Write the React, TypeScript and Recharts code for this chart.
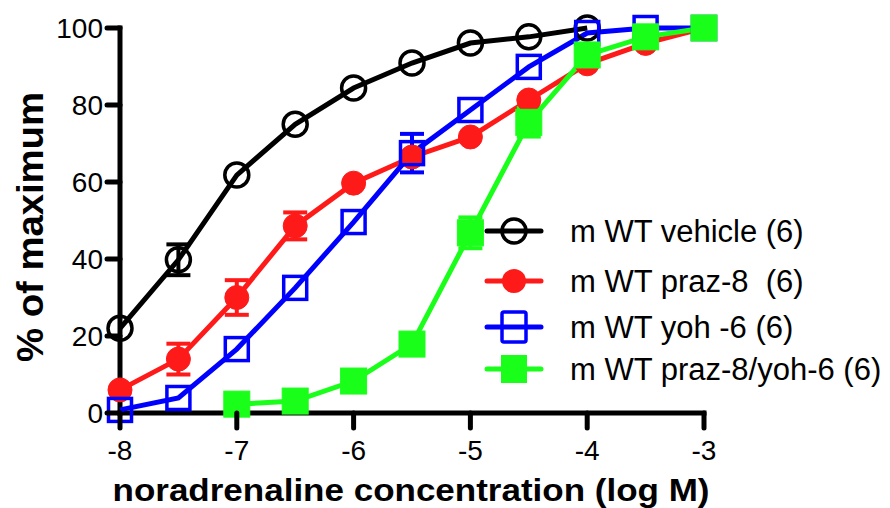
import { LineChart, Line, XAxis, YAxis, ErrorBar, Legend, ReferenceLine } from "recharts";

// log [noradrenaline] (M)
const doses = [-8, -7.5, -7, -6.5, -6, -5.5, -5, -4.5, -4, -3.5, -3];

const vehicle = [22, 39.8, 61.8, 75, 84.4, 90.9, 96.1, 97.7, 100, null, null];
const vehicleErr = [null, 4, null, null, null, null, null, null, null, null, null];

const praz = [6, 14, 30, 48.6, 59.7, 66.5, 71.7, 81.3, 90.7, 96, 100];
const prazErr = [null, 4, 4.5, 3.5, null, null, null, null, null, null, null];

const yoh = [0.8, 3.9, 16.6, 32.5, 49.6, 67.5, 78.7, 89.9, 98.7, 100, 100];
const yohErr = [null, null, null, null, null, 5, null, null, null, null, null];

const prazYoh = [null, null, 2.3, 3.1, 8.3, 17.9, 46.8, 75.5, 93, 97.7, 100];
const prazYohErr = [null, null, null, null, null, null, 4, 3.7, null, null, null];

const legendNames = [
  "m WT vehicle (6)",
  "m WT praz-8  (6)",
  "m WT yoh -6 (6)",
  "m WT praz-8/yoh-6 (6)",
];

const xTicks = [-8, -7, -6, -5, -4, -3];
const yTicks = [0, 20, 40, 60, 80, 100];

const BLACK = "#000000";
const RED = "#ff1a1a";
const BLUE = "#0000ff";
const GREEN = "#1aff1a";

const FONT = 'Arial, "Liberation Sans", sans-serif';

function toRows(values: (number | null)[], errs: (number | null)[]) {
  return doses
    .map((x, i) => ({ x, y: values[i], err: errs[i] }))
    .filter((d) => d.y != null);
}

const vehicleData = toRows(vehicle, vehicleErr);
const prazData = toRows(praz, prazErr);
const yohData = toRows(yoh, yohErr);
const prazYohData = toRows(prazYoh, prazYohErr);

const square = (color: string, filled: boolean) => (props: any) => {
  const { cx, cy, index } = props;
  if (cx == null || cy == null) return <g key={`sq-${index}`} />;
  const s = filled ? 26 : 23;
  return (
    <rect
      key={`sq-${index}`}
      x={cx - s / 2}
      y={cy - s / 2}
      width={s}
      height={s}
      fill={filled ? color : "none"}
      stroke={color}
      strokeWidth={filled ? 1 : 3.5}
    />
  );
};

// thick Prism-style ticks drawn at the positions recharts hands us
const XTick = (props: any) => {
  const { x, y, payload } = props;
  return (
    <g>
      <line x1={x} x2={x} y1={y} y2={y + 15} stroke="#000" strokeWidth={5} strokeLinecap="round" />
      <text x={x} y={y + 27} dy="0.71em" textAnchor="middle" fontSize={28} fontFamily={FONT} fill="#000">
        {payload.value}
      </text>
    </g>
  );
};

const YTick = (props: any) => {
  const { x, y, payload } = props;
  return (
    <g>
      <line x1={x - 13} x2={x} y1={y} y2={y} stroke="#000" strokeWidth={5} strokeLinecap="round" />
      <text x={x - 17} y={y} dy="0.36em" textAnchor="end" fontSize={28} fontFamily={FONT} fill="#000">
        {payload.value}
      </text>
    </g>
  );
};

const legendColors = [BLACK, RED, BLUE, GREEN];

function LegendMarker({ i, x, y }: { i: number; x: number; y: number }) {
  const c = legendColors[i];
  if (i === 0) return <circle cx={x} cy={y} r={12} fill="none" stroke={c} strokeWidth={3.5} />;
  if (i === 1) return <circle cx={x} cy={y} r={12} fill={c} />;
  if (i === 2)
    return <rect x={x - 12} y={y - 15} width={24} height={30} rx={2} fill="none" stroke={c} strokeWidth={3.5} />;
  return <rect x={x - 13} y={y - 14} width={26} height={28} fill={c} />;
}

function renderLegend() {
  const rowY = [26, 76, 122, 164];
  return (
    <svg width={420} height={190} style={{ overflow: "visible" }}>
      {legendNames.map((name, i) => (
        <g key={name}>
          <line x1={17} x2={71} y1={rowY[i]} y2={rowY[i]} stroke={legendColors[i]} strokeWidth={5} strokeLinecap="round" />
          <LegendMarker i={i} x={44} y={rowY[i]} />
          <text
            x={100}
            y={rowY[i]}
            dy="0.36em"
            fontSize={31}
            fontFamily={FONT}
            fill="#000"
            style={{ whiteSpace: "pre" }}
          >
            {name}
          </text>
        </g>
      ))}
    </svg>
  );
}

export default function App() {
  return (
    <div style={{ position: "absolute", left: 0, top: 0, width: 890, height: 508, background: "#fff", fontFamily: FONT }}>
      <LineChart width={890} height={508} margin={{ top: 28, right: 186, left: 0, bottom: 0 }}>
        <XAxis
          type="number"
          dataKey="x"
          domain={[-8, -3]}
          ticks={xTicks}
          height={95}
          axisLine={false}
          tickLine={false}
          tickSize={0}
          tickMargin={0}
          tick={<XTick />}
        />
        <YAxis
          type="number"
          domain={[0, 100]}
          ticks={yTicks}
          width={120}
          axisLine={false}
          tickLine={false}
          tickSize={0}
          tickMargin={0}
          tick={<YTick />}
        />
        <ReferenceLine y={0} stroke="#000" strokeWidth={5} strokeLinecap="square" />
        <ReferenceLine x={-8} stroke="#000" strokeWidth={5} strokeLinecap="square" />
        <Legend
          layout="vertical"
          align="center"
          verticalAlign="middle"
          content={renderLegend}
          wrapperStyle={{ left: 470, top: 205, width: 420, height: 190 }}
        />
        <Line
          data={vehicleData}
          dataKey="y"
          name={legendNames[0]}
          type="linear"
          stroke={BLACK}
          strokeWidth={5}
          dot={{ r: 12, fill: "none", stroke: BLACK, strokeWidth: 3.5 }}
          isAnimationActive={false}
        >
          <ErrorBar dataKey="err" width={12} stroke={BLACK} strokeWidth={4} direction="y" />
        </Line>
        <Line
          data={prazData}
          dataKey="y"
          name={legendNames[1]}
          type="linear"
          stroke={RED}
          strokeWidth={5}
          dot={{ r: 12, fill: RED, stroke: RED, strokeWidth: 1 }}
          isAnimationActive={false}
        >
          <ErrorBar dataKey="err" width={12} stroke={RED} strokeWidth={4} direction="y" />
        </Line>
        <Line
          data={yohData}
          dataKey="y"
          name={legendNames[2]}
          type="linear"
          stroke={BLUE}
          strokeWidth={5}
          dot={square(BLUE, false)}
          isAnimationActive={false}
        >
          <ErrorBar dataKey="err" width={12} stroke={BLUE} strokeWidth={4} direction="y" />
        </Line>
        <Line
          data={prazYohData}
          dataKey="y"
          name={legendNames[3]}
          type="linear"
          stroke={GREEN}
          strokeWidth={5}
          dot={square(GREEN, true)}
          isAnimationActive={false}
        >
          <ErrorBar dataKey="err" width={12} stroke={GREEN} strokeWidth={4} direction="y" />
        </Line>
      </LineChart>
      <svg
        width={890}
        height={508}
        style={{ position: "absolute", left: 0, top: 0, pointerEvents: "none" }}
      >
        <text
          transform="translate(43 227) rotate(-90)"
          textAnchor="middle"
          fontSize={37}
          fontWeight="bold"
          fontFamily={FONT}
          textLength={270}
          lengthAdjust="spacingAndGlyphs"
        >
          % of maximum
        </text>
        <text
          x={411}
          y={501}
          textAnchor="middle"
          fontSize={32}
          fontWeight="bold"
          fontFamily={FONT}
          textLength={597}
          lengthAdjust="spacingAndGlyphs"
        >
          noradrenaline concentration (log M)
        </text>
      </svg>
    </div>
  );
}
